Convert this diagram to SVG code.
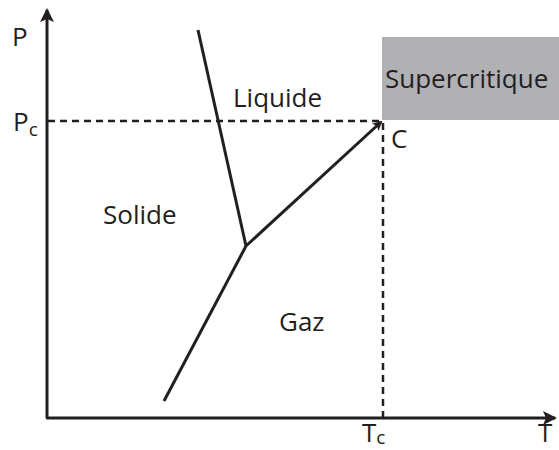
<svg xmlns="http://www.w3.org/2000/svg" width="559" height="450" viewBox="0 0 559 450">
<style>
text{font-family:"Open Sans","Liberation Sans",sans-serif;fill:#231f20;font-size:26px}
.sub{font-size:19px}
.ln{stroke:#231f20;stroke-width:3;fill:none}
.ax{stroke:#231f20;stroke-width:3;fill:none}
.dash{stroke:#231f20;stroke-width:2.5;stroke-dasharray:7,5;fill:none}
</style>
<defs>
<marker id="arr" markerWidth="10" markerHeight="10" refX="8" refY="5" orient="auto" markerUnits="userSpaceOnUse" viewBox="0 0 10 10">
<path d="M0,0 L10,5 L0,10 L2.5,5 Z" fill="#231f20"/>
</marker>
<marker id="arr2" markerWidth="14" markerHeight="14" refX="12" refY="7" orient="auto" markerUnits="userSpaceOnUse" viewBox="0 0 14 14">
<path d="M0,0 L14,7 L0,14 L3,7 Z" fill="#231f20"/>
</marker>
</defs>
<g id="supercritique">
<rect x="382" y="37" width="177" height="83" fill="#b1b1b4"/>
<text x="385" y="88">Supercritique</text>
</g>
<g id="connectors">
<line class="dash" x1="48" y1="121" x2="382" y2="121"/>
<line class="dash" x1="383" y1="123" x2="383" y2="417"/>
<line class="ax" x1="47" y1="418" x2="47" y2="10" marker-end="url(#arr2)"/>
<line class="ax" x1="46" y1="418" x2="555" y2="418" marker-end="url(#arr2)"/>
<line class="ln" x1="198" y1="30" x2="246" y2="246"/>
<line class="ln" x1="246" y1="246" x2="381" y2="122" marker-end="url(#arr)"/>
<line class="ln" x1="246" y1="246" x2="164" y2="401"/>
</g>
<g id="labels">
<text x="12" y="46">P</text>
<text x="13" y="131">P<tspan class="sub" dy="5">c</tspan></text>
<text x="362" y="442">T<tspan class="sub" dy="2">c</tspan></text>
<text x="538" y="442">T</text>
<text x="391" y="148">C</text>
<text x="233" y="107">Liquide</text>
<text x="103" y="224">Solide</text>
<text x="279" y="331">Gaz</text>
</g>
</svg>
